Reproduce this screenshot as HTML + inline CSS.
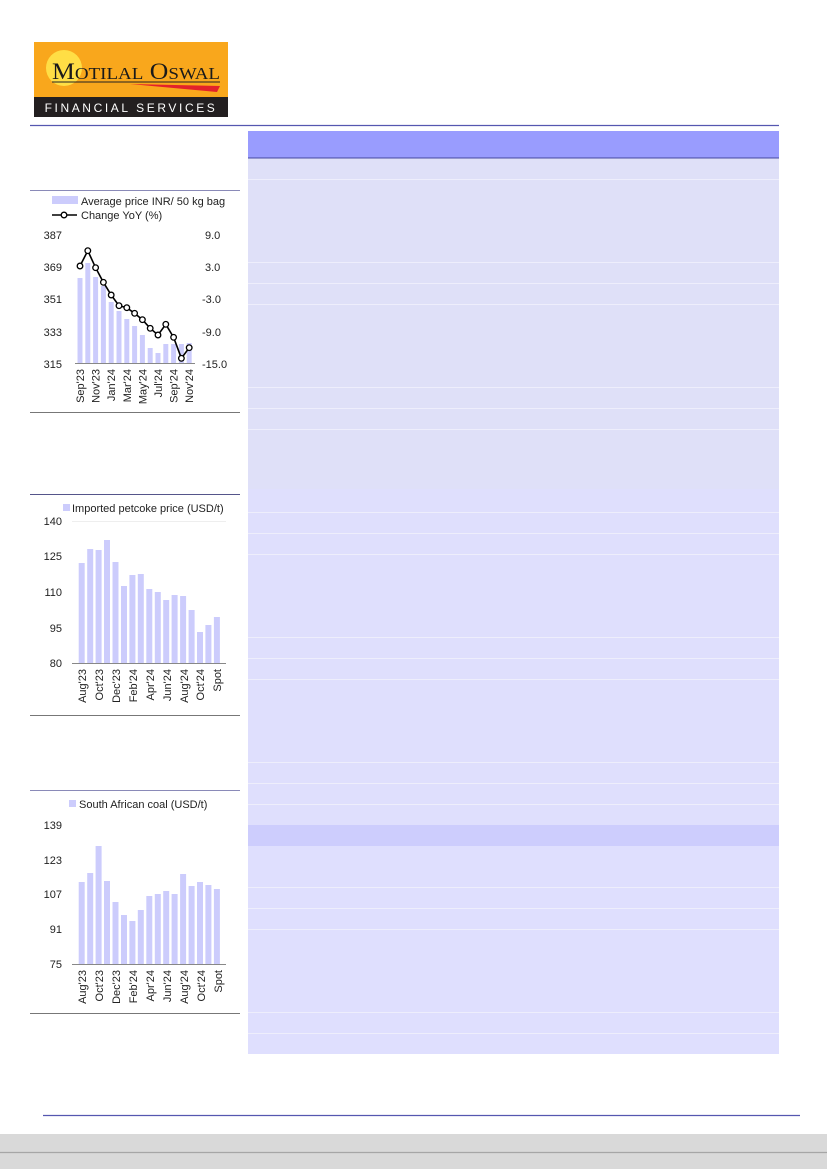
<!DOCTYPE html>
<html><head><meta charset="utf-8"><style>
body{margin:0;background:#fff;}
svg{display:block;font-family:"Liberation Sans",sans-serif;}
</style></head><body>
<svg width="827" height="1169" viewBox="0 0 827 1169" xmlns="http://www.w3.org/2000/svg">
<!-- logo -->
<rect x="34" y="42" width="194" height="55" fill="#f9a71c"/>
<circle cx="64" cy="68" r="18" fill="#ffe44a" opacity="0.9"/>
<text x="52" y="79" font-family="Liberation Serif,serif" font-size="23" fill="#1a1a1a" textLength="168" lengthAdjust="spacingAndGlyphs">M<tspan font-size="17">OTILAL</tspan> O<tspan font-size="17">SWAL</tspan></text>
<line x1="52" y1="82" x2="220" y2="82" stroke="#222" stroke-width="1"/>
<polygon points="130,84 220,86 217,92" fill="#e3222a"/>
<rect x="34" y="97" width="194" height="20" fill="#231f20"/>
<text x="131" y="112" text-anchor="middle" font-size="12" fill="#fff" letter-spacing="2.6">FINANCIAL SERVICES</text>
<line x1="30" y1="125.5" x2="779" y2="125.5" stroke="#5557b0" stroke-width="1.2"/>

<!-- table -->
<rect x="248" y="131" width="531" height="27" fill="#999cfe"/>
<line x1="248" y1="158" x2="779" y2="158" stroke="#5557b0" stroke-width="1.2"/>
<rect x="248" y="159" width="531" height="330" fill="#dfe0f8"/>
<rect x="248" y="489" width="531" height="336" fill="#dfdffd"/>
<rect x="248" y="825" width="531" height="21" fill="#cdcdfd"/>
<rect x="248" y="846" width="531" height="208" fill="#dfdffe"/>
<g stroke="#eeeefc" stroke-width="1">
<line x1="248" x2="779" y1="179.5" y2="179.5"/><line x1="248" x2="779" y1="262.5" y2="262.5"/>
<line x1="248" x2="779" y1="283.5" y2="283.5"/><line x1="248" x2="779" y1="304.5" y2="304.5"/>
<line x1="248" x2="779" y1="387.5" y2="387.5"/><line x1="248" x2="779" y1="408.5" y2="408.5"/>
<line x1="248" x2="779" y1="429.5" y2="429.5"/><line x1="248" x2="779" y1="512.5" y2="512.5"/>
<line x1="248" x2="779" y1="533.5" y2="533.5"/><line x1="248" x2="779" y1="554.5" y2="554.5"/>
<line x1="248" x2="779" y1="637.5" y2="637.5"/><line x1="248" x2="779" y1="658.5" y2="658.5"/>
<line x1="248" x2="779" y1="679.5" y2="679.5"/><line x1="248" x2="779" y1="762.5" y2="762.5"/>
<line x1="248" x2="779" y1="783.5" y2="783.5"/><line x1="248" x2="779" y1="804.5" y2="804.5"/>
<line x1="248" x2="779" y1="887.5" y2="887.5"/><line x1="248" x2="779" y1="908.5" y2="908.5"/>
<line x1="248" x2="779" y1="929.5" y2="929.5"/><line x1="248" x2="779" y1="1012.5" y2="1012.5"/>
<line x1="248" x2="779" y1="1033.5" y2="1033.5"/>
</g>

<!-- chart 1 -->
<line x1="30" y1="190.5" x2="240" y2="190.5" stroke="#8a8ab8" stroke-width="1"/>
<line x1="30" y1="412.5" x2="240" y2="412.5" stroke="#777" stroke-width="1"/>
<rect x="52" y="196" width="26" height="8" fill="#ccccfc"/>
<text x="81" y="205" font-size="11" fill="#222">Average price INR/ 50 kg bag</text>
<line x1="52" y1="215" x2="77" y2="215" stroke="#000" stroke-width="1.6"/>
<circle cx="64" cy="215" r="2.8" fill="#fff" stroke="#000" stroke-width="1.3"/>
<text x="81" y="219" font-size="11" fill="#222">Change YoY (%)</text>
<g font-size="11" fill="#222">
<text x="62" y="239" text-anchor="end">387</text><text x="62" y="271" text-anchor="end">369</text>
<text x="62" y="303" text-anchor="end">351</text><text x="62" y="336" text-anchor="end">333</text>
<text x="62" y="368" text-anchor="end">315</text>
<text x="205" y="239">9.0</text><text x="205" y="271">3.0</text><text x="202" y="303">-3.0</text>
<text x="202" y="336">-9.0</text><text x="202" y="368">-15.0</text>
</g>
<g fill="#ccccfc">
<rect x="77.5" y="278" width="5" height="85"/><rect x="85.3" y="263" width="5" height="100"/>
<rect x="93.1" y="277" width="5" height="86"/><rect x="100.9" y="286" width="5" height="77"/>
<rect x="108.7" y="302" width="5" height="61"/><rect x="116.5" y="311" width="5" height="52"/>
<rect x="124.3" y="319" width="5" height="44"/><rect x="132.1" y="326" width="5" height="37"/>
<rect x="139.9" y="335" width="5" height="28"/><rect x="147.7" y="348" width="5" height="15"/>
<rect x="155.5" y="353" width="5" height="10"/><rect x="163.3" y="344" width="5" height="19"/>
<rect x="171.1" y="344" width="5" height="19"/><rect x="178.9" y="344" width="5" height="19"/>
<rect x="186.7" y="343" width="5" height="20"/>
</g>
<line x1="75" y1="363.5" x2="195" y2="363.5" stroke="#888" stroke-width="1"/>
<polyline fill="none" stroke="#000" stroke-width="1.6" points="80,266 87.8,250.7 95.6,267.7 103.4,282.3 111.2,295 119,305.7 126.8,307.7 134.6,313.3 142.4,319.7 150.2,328.3 158,335 165.8,324.3 173.6,337.3 181.4,358.3 189.2,347.7"/>
<g fill="#fff" stroke="#000" stroke-width="1.3">
<circle cx="80" cy="266" r="2.8"/><circle cx="87.8" cy="250.7" r="2.8"/><circle cx="95.6" cy="267.7" r="2.8"/>
<circle cx="103.4" cy="282.3" r="2.8"/><circle cx="111.2" cy="295" r="2.8"/><circle cx="119" cy="305.7" r="2.8"/>
<circle cx="126.8" cy="307.7" r="2.8"/><circle cx="134.6" cy="313.3" r="2.8"/><circle cx="142.4" cy="319.7" r="2.8"/>
<circle cx="150.2" cy="328.3" r="2.8"/><circle cx="158" cy="335" r="2.8"/><circle cx="165.8" cy="324.3" r="2.8"/>
<circle cx="173.6" cy="337.3" r="2.8"/><circle cx="181.4" cy="358.3" r="2.8"/><circle cx="189.2" cy="347.7" r="2.8"/>
</g>
<g font-size="11" fill="#222" text-anchor="end">
<text transform="translate(84,369) rotate(-90)">Sep'23</text>
<text transform="translate(99.6,369) rotate(-90)">Nov'23</text>
<text transform="translate(115.2,369) rotate(-90)">Jan'24</text>
<text transform="translate(130.8,369) rotate(-90)">Mar'24</text>
<text transform="translate(146.4,369) rotate(-90)">May'24</text>
<text transform="translate(162,369) rotate(-90)">Jul'24</text>
<text transform="translate(177.6,369) rotate(-90)">Sep'24</text>
<text transform="translate(193.2,369) rotate(-90)">Nov'24</text>
</g>

<!-- chart 2 -->
<line x1="30" y1="494.5" x2="240" y2="494.5" stroke="#55558a" stroke-width="1"/>
<line x1="30" y1="715.5" x2="240" y2="715.5" stroke="#777" stroke-width="1"/>
<rect x="63" y="504" width="7" height="7" fill="#ccccfc"/>
<text x="72" y="512" font-size="11" fill="#222">Imported petcoke price (USD/t)</text>
<line x1="72" y1="521.5" x2="226" y2="521.5" stroke="#eee"/>
<g font-size="11" fill="#222" text-anchor="end">
<text x="62" y="525">140</text><text x="62" y="560">125</text><text x="62" y="596">110</text>
<text x="62" y="632">95</text><text x="62" y="667">80</text>
</g>
<g fill="#ccccfc">
<rect x="78.7" y="563" width="6" height="100"/><rect x="87.2" y="549" width="6" height="114"/>
<rect x="95.6" y="550" width="6" height="113"/><rect x="104" y="540" width="6" height="123"/>
<rect x="112.5" y="562" width="6" height="101"/><rect x="121" y="586" width="6" height="77"/>
<rect x="129.4" y="575" width="6" height="88"/><rect x="137.8" y="574" width="6" height="89"/>
<rect x="146.3" y="589" width="6" height="74"/><rect x="154.8" y="592" width="6" height="71"/>
<rect x="163.2" y="600" width="6" height="63"/><rect x="171.6" y="595" width="6" height="68"/>
<rect x="180.1" y="596" width="6" height="67"/><rect x="188.6" y="610" width="6" height="53"/>
<rect x="197" y="632" width="6" height="31"/><rect x="205.4" y="625" width="6" height="38"/>
<rect x="213.9" y="617" width="6" height="46"/>
</g>
<line x1="72" y1="663.5" x2="226" y2="663.5" stroke="#888"/>
<g font-size="11" fill="#222" text-anchor="end">
<text transform="translate(86,669) rotate(-90)">Aug'23</text>
<text transform="translate(103,669) rotate(-90)">Oct'23</text>
<text transform="translate(120,669) rotate(-90)">Dec'23</text>
<text transform="translate(137,669) rotate(-90)">Feb'24</text>
<text transform="translate(154,669) rotate(-90)">Apr'24</text>
<text transform="translate(171,669) rotate(-90)">Jun'24</text>
<text transform="translate(188,669) rotate(-90)">Aug'24</text>
<text transform="translate(204,669) rotate(-90)">Oct'24</text>
<text transform="translate(221,669) rotate(-90)">Spot</text>
</g>

<!-- chart 3 -->
<line x1="30" y1="790.5" x2="240" y2="790.5" stroke="#8a8ab8" stroke-width="1"/>
<line x1="30" y1="1013.5" x2="240" y2="1013.5" stroke="#777" stroke-width="1"/>
<rect x="69" y="800" width="7" height="7" fill="#ccccfc"/>
<text x="79" y="808" font-size="11" fill="#222">South African coal (USD/t)</text>
<g font-size="11" fill="#222" text-anchor="end">
<text x="62" y="829">139</text><text x="62" y="864">123</text><text x="62" y="898">107</text>
<text x="62" y="933">91</text><text x="62" y="968">75</text>
</g>
<g fill="#ccccfc">
<rect x="78.7" y="882" width="6" height="82"/><rect x="87.2" y="873" width="6" height="91"/>
<rect x="95.6" y="846" width="6" height="118"/><rect x="104" y="881" width="6" height="83"/>
<rect x="112.5" y="902" width="6" height="62"/><rect x="121" y="915" width="6" height="49"/>
<rect x="129.4" y="921" width="6" height="43"/><rect x="137.8" y="910" width="6" height="54"/>
<rect x="146.3" y="896" width="6" height="68"/><rect x="154.8" y="894" width="6" height="70"/>
<rect x="163.2" y="891" width="6" height="73"/><rect x="171.6" y="894" width="6" height="70"/>
<rect x="180.1" y="874" width="6" height="90"/><rect x="188.6" y="886" width="6" height="78"/>
<rect x="197" y="882" width="6" height="82"/><rect x="205.4" y="885" width="6" height="79"/>
<rect x="213.9" y="889" width="6" height="75"/>
</g>
<line x1="72" y1="964.5" x2="226" y2="964.5" stroke="#888"/>
<g font-size="11" fill="#222" text-anchor="end">
<text transform="translate(86,970) rotate(-90)">Aug'23</text>
<text transform="translate(103,970) rotate(-90)">Oct'23</text>
<text transform="translate(120,970) rotate(-90)">Dec'23</text>
<text transform="translate(137,970) rotate(-90)">Feb'24</text>
<text transform="translate(154,970) rotate(-90)">Apr'24</text>
<text transform="translate(171,970) rotate(-90)">Jun'24</text>
<text transform="translate(188,970) rotate(-90)">Aug'24</text>
<text transform="translate(205,970) rotate(-90)">Oct'24</text>
<text transform="translate(222,970) rotate(-90)">Spot</text>
</g>

<!-- footer -->
<line x1="43" y1="1115.5" x2="800" y2="1115.5" stroke="#5557b0" stroke-width="1.2"/>
<rect x="0" y="1134" width="827" height="35" fill="#d9d9d9"/>
<line x1="0" y1="1152.5" x2="827" y2="1152.5" stroke="#a6a6a6" stroke-width="1.2"/>
</svg>
</body></html>
